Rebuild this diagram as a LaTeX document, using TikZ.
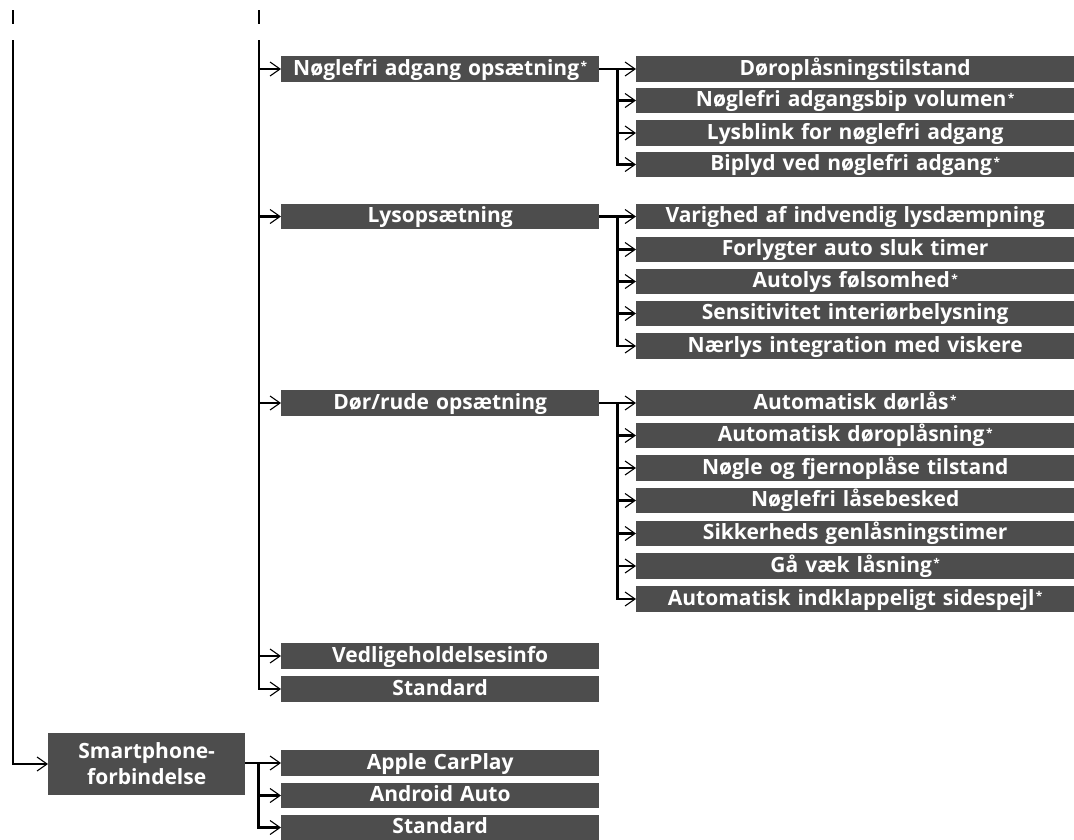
\documentclass[tikz,border=0pt]{standalone}
\usepackage{fontspec}
\setmainfont{Open Sans}
\usetikzlibrary{arrows.meta}
\definecolor{boxgray}{HTML}{4D4D4D}
\newcommand\stern{\kern1.5pt{\fontsize{12}{12}\selectfont\raisebox{4.5pt}{*}}}
\begin{document}
\begin{tikzpicture}[x=1pt,y=-1pt,
  box/.style={fill=boxgray, text=white, font=\bfseries\fontsize{21}{26}\selectfont,
    inner sep=0pt, minimum height=25.5pt, text height=16pt, text depth=3.5pt,
    anchor=west, align=center},
  lvtwo/.style={box, minimum width=318pt, text width=318pt},
  lvthree/.style={box, minimum width=438pt, text width=438pt},
  conn/.style={line width=2.2pt},
  arr/.style={line width=2.2pt, -{Straight Barb[length=10pt,width=14pt,line width=1.1pt]}}
]
\useasboundingbox (0,0) rectangle (1074,839);

% level 2 (upper menu)
\node[lvtwo] (n1) at (281,69) {Nøglefri adgang opsætning\stern};
\node[lvtwo] (n2) at (281,216.5) {Lysopsætning};
\node[lvtwo] (n3) at (281,403) {Dør/rude opsætning};
\node[lvtwo] (n4) at (281,656) {Vedligeholdelsesinfo};
\node[lvtwo] (n5) at (281,689) {Standard};

% group 1
\node[lvthree] (c11) at (636,69) {Døroplåsningstilstand};
\node[lvthree] (c12) at (636,100.5) {Nøglefri adgangsbip volumen\stern};
\node[lvthree] (c13) at (636,133) {Lysblink for nøglefri adgang};
\node[lvthree] (c14) at (636,164.5) {Biplyd ved nøglefri adgang\stern};

% group 2
\node[lvthree] (c21) at (636,216.5) {Varighed af indvendig lysdæmpning};
\node[lvthree] (c22) at (636,249.5) {Forlygter auto sluk timer};
\node[lvthree] (c23) at (636,281.5) {Autolys følsomhed\stern};
\node[lvthree] (c24) at (636,313.5) {Sensitivitet interiørbelysning};
\node[lvthree] (c25) at (636,346) {Nærlys integration med viskere};

% group 3
\node[lvthree] (c31) at (636,403) {Automatisk dørlås\stern};
\node[lvthree] (c32) at (636,435.5) {Automatisk døroplåsning\stern};
\node[lvthree] (c33) at (636,468) {Nøgle og fjernoplåse tilstand};
\node[lvthree] (c34) at (636,500.5) {Nøglefri låsebesked};
\node[lvthree] (c35) at (636,533.5) {Sikkerheds genlåsningstimer};
\node[lvthree] (c36) at (636,566) {Gå væk låsning\stern};
\node[lvthree] (c37) at (636,599) {Automatisk indklappeligt sidespejl\stern};

% smartphone
\node[box, minimum width=197pt, text width=197pt, minimum height=62pt,
      text height=, text depth=, font=\bfseries\fontsize{21}{26}\selectfont]
      (sp) at (48,764) {Smartphone-\\forbindelse};
\node[lvtwo] (s1) at (281,763) {Apple CarPlay};
\node[lvtwo] (s2) at (281,795.5) {Android Auto};
\node[lvtwo] (s3) at (281,827.5) {Standard};

% top broken marks
\coordinate (ma1) at (13,10); \coordinate (ma2) at (13,24);
\coordinate (mb1) at (259,10); \coordinate (mb2) at (259,24);
\draw[conn] (ma1) -- (ma2);
\draw[conn] (mb1) -- (mb2);

% trunk A
\coordinate (atop) at (13,40);
\draw[arr] (atop) |- (sp.west);

% trunk B
\coordinate (btop) at (259,40);
\draw[arr] (btop) |- (n5.west);
\foreach \n in {n1,n2,n3,n4}{
  \draw[arr] (btop |- \n.west) -- (\n.west);
}

% group branches
\draw[conn] (n1.east) -- ++(18,0) coordinate (b1);
\draw[arr] (b1) -- (c11.west);
\draw[arr] (b1) |- (c14.west);
\foreach \n in {c12,c13}{ \draw[arr] (b1 |- \n.west) -- (\n.west); }

\draw[conn] (n2.east) -- ++(18,0) coordinate (b2);
\draw[arr] (b2) -- (c21.west);
\draw[arr] (b2) |- (c25.west);
\foreach \n in {c22,c23,c24}{ \draw[arr] (b2 |- \n.west) -- (\n.west); }

\draw[conn] (n3.east) -- ++(18,0) coordinate (b3);
\draw[arr] (b3) -- (c31.west);
\draw[arr] (b3) |- (c37.west);
\foreach \n in {c32,c33,c34,c35,c36}{ \draw[arr] (b3 |- \n.west) -- (\n.west); }

\draw[conn] (sp.east |- s1.west) -- ++(13,0) coordinate (b4);
\draw[arr] (b4) -- (s1.west);
\draw[arr] (b4) |- (s3.west);
\draw[arr] (b4 |- s2.west) -- (s2.west);
\end{tikzpicture}
\end{document}
